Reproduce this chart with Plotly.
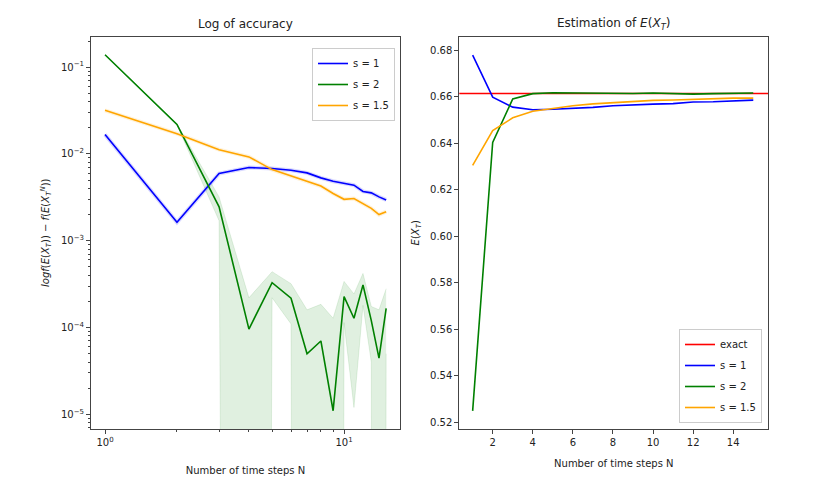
import numpy as np
import plotly.graph_objects as go

# number of time steps
steps = list(range(1, 16))

# left panel: error per scheme (log scale)
err_s1 = [0.0167, 0.00163, 0.00594, 0.00697, 0.0068, 0.0065, 0.00605, 0.0053,
          0.00485, 0.00457, 0.00437, 0.0037, 0.00356, 0.0032, 0.00295]
err_s2 = [0.139, 0.0219, 0.00246, 9.6e-5, 3.29e-4, 2.18e-4, 4.98e-5, 7.0e-5,
          1.1e-5, 2.27e-4, 1.28e-4, 3.1e-4, 1.2e-4, 4.45e-5, 1.66e-4]
err_s15 = [0.0318, 0.0171, 0.0112, 0.00925, 0.0066, 0.00555, 0.0048, 0.00427,
           0.0035, 0.0030, 0.00307, 0.00268, 0.00236, 0.0020, 0.00216]
# confidence band of s = 2 (0 means the lower bound is not positive)
err_s2_hi = [0.140, 0.0222, 0.0032, 2.2e-4, 4.4e-4, 3.2e-4, 1.6e-4, 1.85e-4,
             1.28e-4, 3.4e-4, 2.44e-4, 4.2e-4, 1.75e-4, 1.6e-4, 2.8e-4]
err_s2_lo = [0.138, 0.0216, 1.7e-3, 0, 2.2e-4, 1.1e-4, 0, 0,
             0, 1.14e-4, 1.2e-5, 1.8e-4, 4e-5, 0, 5e-5]

# right panel: estimates of E(X_T)
exact = 0.6615
est_s1 = [0.678, 0.6599, 0.6556, 0.6545, 0.6547, 0.6550, 0.6555, 0.6562,
          0.6567, 0.6569, 0.6571, 0.6578, 0.6579, 0.6583, 0.6586]
est_s2 = [0.5249, 0.6404, 0.6591, 0.6614, 0.6618, 0.6617, 0.6616, 0.6616,
          0.6615, 0.6617, 0.6614, 0.6612, 0.6614, 0.6616, 0.6617]
est_s15 = [0.6305, 0.6455, 0.651, 0.6538, 0.655, 0.6562, 0.657, 0.6575,
           0.6582, 0.6585, 0.6587, 0.659, 0.6593, 0.6595, 0.6595]

BLUE, GREEN, ORANGE, RED = '#0000ff', '#008000', '#ffa500', '#ff0000'
FONT = 'DejaVu Sans'

# page body has an 8px margin, so the figure is a bit smaller than the window
W, H, OFF = 831, 492, 8


def px(x):
    return (x - OFF) / W


def py(y):
    return 1 - (y - OFF) / H


fig = go.Figure()

# faint halos around lines (narrow bands)
for ys, c in [(err_s1, 'rgba(0,0,255,0.15)'), (err_s15, 'rgba(255,165,0,0.15)')]:
    fig.add_trace(go.Scatter(x=steps, y=ys, mode='lines', line=dict(color=c, width=4),
                             showlegend=False, hoverinfo='skip', xaxis='x', yaxis='y'))

# green band, lower bound clipped like a log axis does
lo = np.maximum(np.array(err_s2_lo, dtype=float), 1e-60)
fig.add_trace(go.Scatter(x=steps, y=err_s2_hi, mode='lines',
                         line=dict(color='rgba(0,128,0,0.1)', width=1),
                         showlegend=False, hoverinfo='skip', xaxis='x', yaxis='y'))
fig.add_trace(go.Scatter(x=steps, y=lo, mode='lines', fill='tonexty',
                         fillcolor='rgba(0,128,0,0.12)',
                         line=dict(color='rgba(0,128,0,0.1)', width=1),
                         showlegend=False, hoverinfo='skip', xaxis='x', yaxis='y'))

for ys, c, name in [(err_s1, BLUE, 's = 1'), (err_s2, GREEN, 's = 2'), (err_s15, ORANGE, 's = 1.5')]:
    fig.add_trace(go.Scatter(x=steps, y=ys, mode='lines', name=name, legendgroup='L' + name,
                             line=dict(color=c, width=1.6), xaxis='x', yaxis='y',
                             legend='legend'))

# right panel
fig.add_trace(go.Scatter(x=[0, 16], y=[exact, exact], mode='lines', name='exact',
                         legendgroup='Rexact', line=dict(color=RED, width=1.6),
                         xaxis='x2', yaxis='y2', legend='legend2'))
for ys, c, name in [(est_s1, BLUE, 's = 1'), (est_s2, GREEN, 's = 2'), (est_s15, ORANGE, 's = 1.5')]:
    fig.add_trace(go.Scatter(x=steps, y=ys, mode='lines', name=name, legendgroup='R' + name,
                             line=dict(color=c, width=1.6), xaxis='x2', yaxis='y2',
                             legend='legend2'))

axis_common = dict(showline=True, mirror=True, linecolor='#444', linewidth=1,
                   ticks='outside', ticklen=4, tickcolor='#444', showgrid=False,
                   zeroline=False, automargin=False,
                   tickfont=dict(family=FONT, size=10, color='#222'))

minor_x = [2, 3, 4, 5, 6, 7, 8, 9, 20]
minor_y = [m * 10.0 ** e for e in range(-6, 0) for m in range(2, 10)]

legend_style = dict(traceorder='grouped', bgcolor='rgba(255,255,255,0.8)',
                    bordercolor='#ccc', borderwidth=1, font=dict(family=FONT, size=10),
                    itemwidth=30, tracegroupgap=2)

fig.update_layout(
    template='none',
    width=W, height=H,
    margin=dict(l=0, r=0, t=0, b=0),
    paper_bgcolor='white', plot_bgcolor='white',
    font=dict(family=FONT, size=10, color='#222'),
    xaxis=dict(domain=[px(91), px(400)], type='log', range=[-0.0586, 1.234],
               tickvals=[1, 10], ticktext=['10<sup>0</sup>', '10<sup>1</sup>'],
               minor=dict(tickvals=minor_x, ticks='outside', ticklen=2, tickcolor='#444'),
               title=dict(text='Number of time steps N', font=dict(size=10), standoff=19),
               anchor='y', **axis_common),
    yaxis=dict(domain=[py(429), py(36.5)], type='log', range=[-5.169, -0.647],
               tickvals=[1e-5, 1e-4, 1e-3, 1e-2, 1e-1],
               ticktext=['10<sup>−5</sup>', '10<sup>−4</sup>', '10<sup>−3</sup>',
                         '10<sup>−2</sup>', '10<sup>−1</sup>'],
               minor=dict(tickvals=minor_y, ticks='outside', ticklen=2, tickcolor='#444'),
               title=dict(text='<i>logf</i>(<i>E</i>(<i>X<sub>T</sub></i>)) − '
                               '<i>f</i>(<i>E</i>(<i>X<sub>T</sub><sup>N</sup></i>))',
                          font=dict(size=10), standoff=9),
               anchor='x', **axis_common),
    xaxis2=dict(domain=[px(459.3), px(768.3)], range=[0.334, 15.75],
                tickvals=[2, 4, 6, 8, 10, 12, 14],
                title=dict(text='Number of time steps N', font=dict(size=10), standoff=12),
                anchor='y2', **axis_common),
    yaxis2=dict(domain=[py(429), py(36.5)], range=[0.5171, 0.686],
                tickvals=[0.52, 0.54, 0.56, 0.58, 0.60, 0.62, 0.64, 0.66, 0.68],
                tickformat='.2f',
                title=dict(text='<i>E</i>(<i>X<sub>T</sub></i>)', font=dict(size=10), standoff=8),
                anchor='x2', **axis_common),
    legend=dict(x=px(395), y=py(48), xanchor='right', yanchor='top', **legend_style),
    legend2=dict(x=px(762), y=py(423), xanchor='right', yanchor='bottom', **legend_style),
    annotations=[
        dict(text='Log of accuracy', x=px(245.5), y=py(24), xref='paper', yref='paper',
             xanchor='center', yanchor='middle', showarrow=False,
             font=dict(family=FONT, size=12, color='#222')),
        dict(text='Estimation of <i>E</i>(<i>X<sub>T</sub></i>)', x=px(613.8), y=py(24),
             xref='paper', yref='paper', xanchor='center', yanchor='middle', showarrow=False,
             font=dict(family=FONT, size=12, color='#222')),
    ],
)

fig.write_html("out.html")
